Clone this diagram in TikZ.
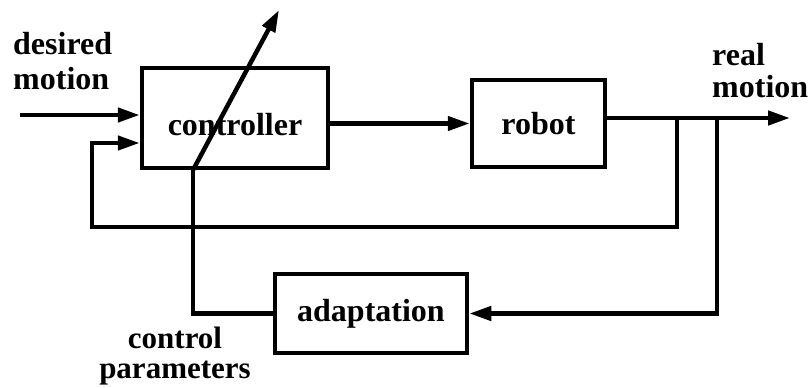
\documentclass[tikz,border=0pt]{standalone}
\usepackage{fontspec}
\setmainfont{Liberation Serif}
\usetikzlibrary{arrows.meta}
\begin{document}
\begin{tikzpicture}[x=1pt,y=-1pt,
  blk/.style={draw,line width=4.5pt,inner sep=0pt,font=\fontsize{32}{34}\selectfont\bfseries},
  wire/.style={line width=4.5pt},
  arr/.style={wire,-{Triangle[length=22pt,width=14pt]}},
  lbl/.style={inner sep=0pt}]
\useasboundingbox (0,0) rectangle (812,388);
% blocks
\node[blk,minimum width=186pt,minimum height=100pt,text height=34pt,text depth=0pt] (ctrl) at (235,118) {controller};
\node[blk,minimum width=133pt,minimum height=87pt] (robot) at (538.5,123.5) {robot};
\node[blk,minimum width=192pt,minimum height=79pt] (adapt) at (371,313.5) {adaptation};
% coordinates
\coordinate (dm) at (20,115);
\coordinate (out) at (790,118);
\coordinate (b1) at (677,118);
\coordinate (b2) at (717,118);
\coordinate (c1) at (92,227);
\coordinate (fb) at (92,143);
\coordinate (cp) at (193,170);
\coordinate (tip) at (279,10);
% connectors
\draw[arr] (dm) -- (dm -| ctrl.west);
\draw[arr] (robot.west -| ctrl.east) -- (robot.west);
\draw[arr] (robot.east |- out) -- (out);
\draw[arr] (b1) |- (c1) |- (ctrl.west |- fb);
\draw[arr] (b2) |- (adapt.east);
\draw[wire] (adapt.west) -| (cp);
\draw[arr] (cp) -- (tip);
% labels
\node[lbl,align=left,anchor=north west,font=\fontsize{32}{35}\selectfont\bfseries] (dmlbl) at (13,32) {desired\\motion};
\node[lbl,align=left,anchor=north west,font=\fontsize{32}{32}\selectfont\bfseries] (rmlbl) at (712,43) {real\\motion};
\node[lbl,align=center,anchor=north,font=\fontsize{31}{30}\selectfont\bfseries] (cplbl) at (175,327) {control\\parameters};
\end{tikzpicture}
\end{document}
